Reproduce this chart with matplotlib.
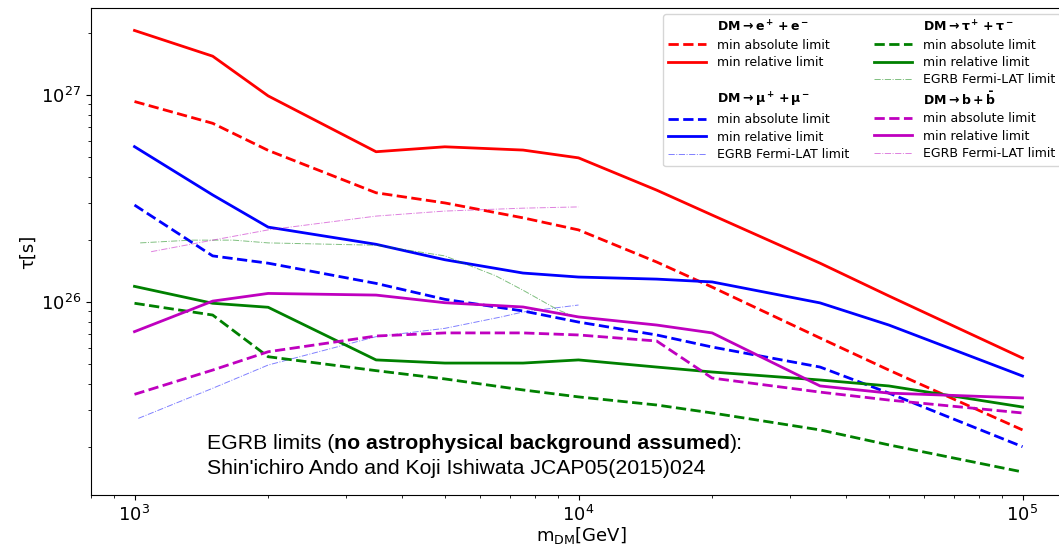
import numpy as np
import matplotlib
matplotlib.use('Agg')
import matplotlib.pyplot as plt
from matplotlib.lines import Line2D

W, H = 1059, 548

# dark-matter mass grid [GeV]
mass = [1e3, 1.5e3, 2e3, 3.5e3, 5e3, 7.5e3, 1e4, 1.5e4, 2e4, 3.5e4, 5e4, 1e5]

# lifetime limits [s]
ee_abs = [9.3e26, 7.3e26, 5.4e26, 3.37e26, 3.01e26, 2.55e26, 2.23e26, 1.56e26, 1.18e26, 6.7e25, 4.69e25, 2.41e25]
ee_rel = [2.05e27, 1.54e27, 9.9e26, 5.32e26, 5.62e26, 5.42e26, 4.97e26, 3.47e26, 2.63e26, 1.54e26, 1.07e26, 5.36e25]
mm_abs = [2.94e26, 1.67e26, 1.54e26, 1.23e26, 1.03e26, 9.05e25, 8.0e25, 6.93e25, 6.06e25, 4.85e25, 3.63e25, 2.0e25]
mm_rel = [5.63e26, 3.29e26, 2.30e26, 1.90e26, 1.60e26, 1.38e26, 1.32e26, 1.29e26, 1.25e26, 9.9e25, 7.74e25, 4.39e25]
tt_abs = [9.86e25, 8.65e25, 5.44e25, 4.66e25, 4.25e25, 3.76e25, 3.48e25, 3.18e25, 2.91e25, 2.41e25, 2.04e25, 1.51e25]
tt_rel = [1.19e26, 9.86e25, 9.43e25, 5.25e25, 5.07e25, 5.07e25, 5.25e25, 4.85e25, 4.59e25, 4.20e25, 3.93e25, 3.11e25]
bb_abs = [3.58e25, 4.69e25, 5.75e25, 6.85e25, 7.09e25, 7.09e25, 6.93e25, 6.48e25, 4.29e25, 3.67e25, 3.36e25, 2.91e25]
bb_rel = [7.19e25, 1.01e26, 1.10e26, 1.08e26, 9.92e25, 9.46e25, 8.47e25, 7.74e25, 7.09e25, 3.93e25, 3.63e25, 3.44e25]

# EGRB Fermi-LAT limits (Ando & Ishiwata 2015)
egrb_tt_m = [1030, 1340, 1670, 2000, 3500, 5000, 6500, 7500, 9000, 10000]
egrb_tt = [1.93e26, 1.99e26, 1.99e26, 1.93e26, 1.88e26, 1.67e26, 1.34e26, 1.14e26, 9.15e25, 8.37e25]
egrb_mm_m = [1020, 1500, 2000, 3500, 5000, 6700, 7500, 10000]
egrb_mm = [2.74e25, 3.83e25, 4.96e25, 6.80e25, 7.46e25, 8.47e25, 8.95e25, 9.67e25]
egrb_bb_m = [1090, 1500, 2000, 3500, 5000, 7500, 10000]
egrb_bb = [1.75e26, 1.99e26, 2.23e26, 2.60e26, 2.75e26, 2.84e26, 2.88e26]


def main():
    fig = plt.figure(figsize=(W / 100, H / 100), dpi=100)
    x0, x1, y0, y1 = 91, 1072, 8, 495
    ax = fig.add_axes([x0 / W, 1 - y1 / H, (x1 - x0) / W, (y1 - y0) / H])

    lw = 2.0
    ax.plot(mass, ee_abs, 'r--', lw=lw)
    ax.plot(mass, ee_rel, 'r-', lw=lw)
    ax.plot(mass, mm_abs, 'b--', lw=lw)
    ax.plot(mass, mm_rel, 'b-', lw=lw)
    ax.plot(egrb_mm_m, egrb_mm, 'b-.', lw=0.7, alpha=0.5)
    ax.plot(mass, tt_abs, 'g--', lw=lw)
    ax.plot(mass, tt_rel, 'g-', lw=lw)
    ax.plot(egrb_tt_m, egrb_tt, 'g-.', lw=0.7, alpha=0.5)
    ax.plot(mass, bb_abs, 'm--', lw=lw)
    ax.plot(mass, bb_rel, 'm-', lw=lw)
    ax.plot(egrb_bb_m, egrb_bb, 'm-.', lw=0.7, alpha=0.5)

    ax.set_xscale('log')
    ax.set_yscale('log')
    ax.set_xlim(10 ** (3 - (134.5 - x0) / 444), 10 ** (5 + (x1 - 1022.5) / 444))
    ax.set_ylim(10 ** (26 - (y1 - 302) / 207), 10 ** (27 + (95 - y0) / 207))
    ax.tick_params(labelsize=13)
    ax.set_xlabel(r'$\mathrm{m_{DM}}$[GeV]', fontsize=13, labelpad=0)
    ax.set_ylabel('τ[s]', fontsize=13, labelpad=3)

    blank = Line2D([], [], color='none')
    handles = [
        blank, Line2D([], [], color='r', ls='--', lw=lw), Line2D([], [], color='r', lw=lw), blank,
        blank, Line2D([], [], color='b', ls='--', lw=lw), Line2D([], [], color='b', lw=lw),
        Line2D([], [], color='b', ls='-.', lw=0.7, alpha=0.5),
        blank, Line2D([], [], color='g', ls='--', lw=lw), Line2D([], [], color='g', lw=lw),
        Line2D([], [], color='g', ls='-.', lw=0.7, alpha=0.5),
        blank, Line2D([], [], color='m', ls='--', lw=lw), Line2D([], [], color='m', lw=lw),
        Line2D([], [], color='m', ls='-.', lw=0.7, alpha=0.5),
    ]
    labels = [
        r'$\mathbf{DM \rightarrow e^+ + e^-}$', 'min absolute limit', 'min relative limit', '',
        r'$\mathbf{DM \rightarrow \mu^+ + \mu^-}$', 'min absolute limit', 'min relative limit',
        'EGRB Fermi-LAT limit',
        r'$\mathbf{DM \rightarrow \tau^+ + \tau^-}$', 'min absolute limit', 'min relative limit',
        'EGRB Fermi-LAT limit',
        r'$\mathbf{DM \rightarrow b + \bar{b}}$', 'min absolute limit', 'min relative limit',
        'EGRB Fermi-LAT limit',
    ]
    fig.legend(handles, labels, ncol=2, loc='upper left',
               bbox_to_anchor=(663 / W, 1 - 14 / H), borderaxespad=0,
               fontsize=9, handlelength=3.0, labelspacing=0.35, columnspacing=2.0,
               handletextpad=0.9)

    font = dict(family='Liberation Sans', fontsize=15.3)
    t1 = ax.text(207 / W, 1 - 449 / H, 'EGRB limits (', transform=fig.transFigure, **font)
    t2 = ax.annotate('no astrophysical background assumed', xy=(1, 0), xycoords=t1,
                     va='bottom', weight='bold', **font)
    ax.annotate('):', xy=(1, 0), xycoords=t2, va='bottom', **font)
    ax.text(207 / W, 1 - 474 / H, "Shin'ichiro Ando and Koji Ishiwata JCAP05(2015)024",
            transform=fig.transFigure, **font)

    fig.savefig('out.png', dpi=100)


if __name__ == '__main__':
    main()
